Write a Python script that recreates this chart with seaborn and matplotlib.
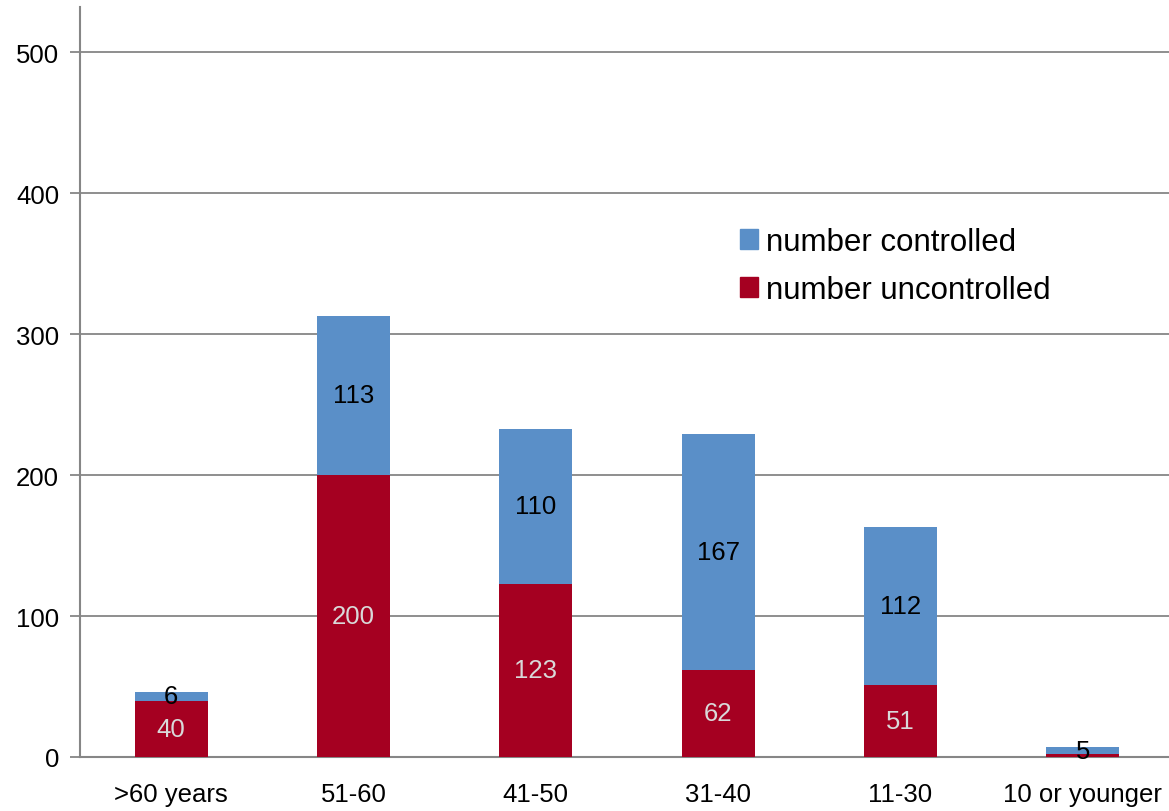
import pandas as pd
import matplotlib
matplotlib.use("Agg")
import matplotlib.pyplot as plt
from matplotlib.patches import Patch
import seaborn as sns

# Data
grupos = ['>60 years', '51-60', '41-50', '31-40', '11-30', '10 or younger']
no_controlados = [40, 200, 123, 62, 51, 2]
controlados = [6, 113, 110, 167, 112, 5]

azul = '#5A8FC8'
rojo = '#A50021'
gris = '#868686'

df = pd.DataFrame({'Grupo': grupos,
                   'No controlado': no_controlados,
                   'Controlado': controlados})
df['Total'] = df['No controlado'] + df['Controlado']

sns.set_style('white')
plt.rcParams['font.family'] = ['Liberation Sans', 'DejaVu Sans']

fig = plt.figure(figsize=(11.69, 8.12), dpi=100)
ax = fig.add_axes([80 / 1169, 54 / 812, 1094 / 1169, 750 / 812])

# stacked bars: total in blue, uncontrolled in red over it
sns.barplot(data=df, x='Grupo', y='Total', color=azul, width=0.4,
            saturation=1, linewidth=0, ax=ax, zorder=3)
sns.barplot(data=df, x='Grupo', y='No controlado', color=rojo, width=0.4,
            saturation=1, linewidth=0, ax=ax, zorder=3)

# value labels
for i in range(len(grupos)):
    u = no_controlados[i]
    c = controlados[i]
    if u > 5:
        ax.text(i, u / 2, str(u), ha='center', va='center',
                fontsize=18.5, color='#D9D9D9', zorder=5)
    ax.text(i, u + c / 2, str(c), ha='center', va='center',
            fontsize=18.5, color='black', zorder=5)

ax.set_ylim(0, 532)
ax.set_xlim(-0.5, 5.5)
ax.set_yticks([0, 100, 200, 300, 400, 500])
ax.yaxis.grid(True, color=gris, linewidth=1.3, zorder=0)
ax.set_axisbelow(True)
ax.set_xlabel('')
ax.set_ylabel('')

for s in ['top', 'right']:
    ax.spines[s].set_visible(False)
for s in ['left', 'bottom']:
    ax.spines[s].set_color(gris)
    ax.spines[s].set_linewidth(1.5)

ax.set_xticks([0.5, 1.5, 2.5, 3.5, 4.5, 5.5], minor=True)
ax.tick_params(axis='x', which='major', length=0, pad=18, labelsize=18.5,
               labelcolor='black')
ax.tick_params(axis='x', which='minor', length=8, width=1.3, color=gris,
               direction='out')
ax.tick_params(axis='y', length=7, width=1.3, color=gris, direction='out',
               labelsize=18.5, pad=8, left=True, labelcolor='black')

handles = [Patch(color=azul, label='number controlled'),
           Patch(color=rojo, label='number uncontrolled')]
leg = ax.legend(handles=handles, loc='center left',
                bbox_to_anchor=(727 / 1169, 1 - 267 / 812),
                bbox_transform=fig.transFigure, frameon=False, fontsize=22.5,
                handlelength=0.6, handleheight=0.6, handletextpad=0.25,
                labelspacing=0.55, borderaxespad=0)
for t in leg.get_texts():
    t.set_color('black')

fig.savefig('out.png', dpi=100)
